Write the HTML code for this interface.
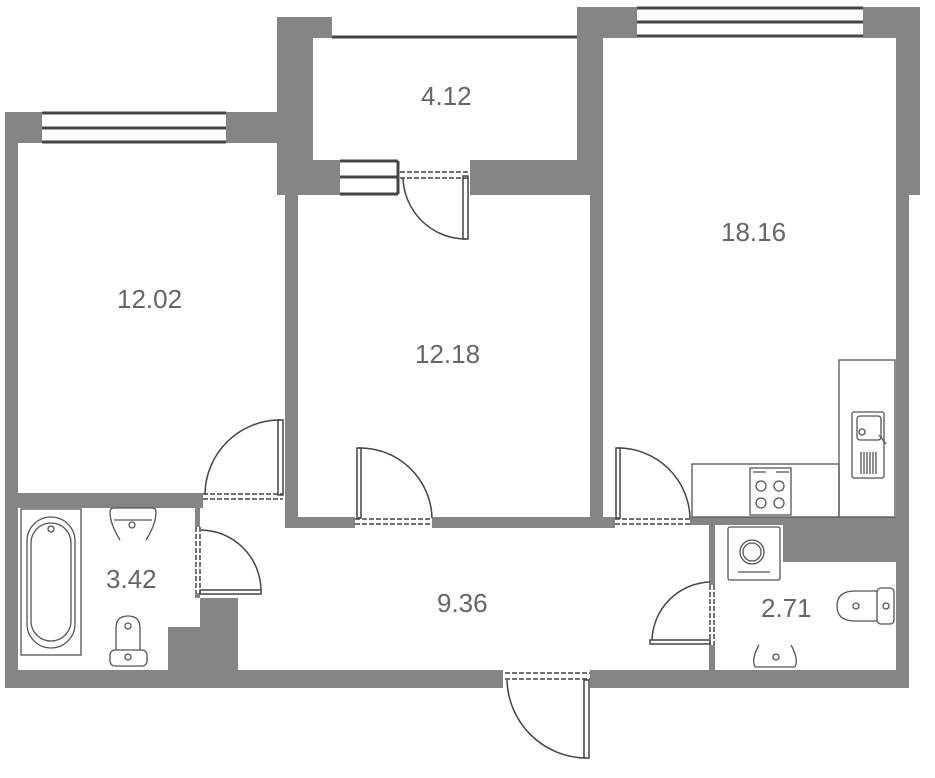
<!DOCTYPE html>
<html><head><meta charset="utf-8"><style>
html,body{margin:0;padding:0;background:#fff;}
svg{display:block;}
text{font-family:"Liberation Sans",sans-serif;font-size:26px;fill:#666;font-weight:300;}
</style></head><body>
<svg width="935" height="778" viewBox="0 0 935 778" xmlns="http://www.w3.org/2000/svg">
<g fill="#858585">
<rect x="5" y="112" width="13" height="576"/>
<rect x="5" y="112" width="37" height="31"/>
<rect x="226" y="112" width="72" height="31"/>
<rect x="277" y="17" width="55" height="21"/>
<rect x="277" y="17" width="36" height="178"/>
<rect x="285" y="143" width="13" height="385"/>
<rect x="298" y="160" width="42" height="35"/>
<rect x="470" y="160" width="133" height="35"/>
<rect x="577" y="7" width="60" height="31"/>
<rect x="577" y="7" width="26" height="188"/>
<rect x="590" y="160" width="13" height="368"/>
<rect x="863" y="7" width="57" height="31"/>
<rect x="896" y="7" width="24" height="188"/>
<rect x="896" y="195" width="13" height="493"/>
<rect x="5" y="493" width="198" height="15"/>
<rect x="195" y="508" width="5" height="19"/>
<rect x="195" y="593" width="5" height="5"/>
<rect x="200" y="598" width="38" height="90"/>
<rect x="168" y="627" width="32" height="61"/>
<rect x="285" y="517" width="70" height="11"/>
<rect x="432" y="517" width="183" height="11"/>
<rect x="690" y="517" width="219" height="8"/>
<rect x="783" y="517" width="126" height="45"/>
<rect x="709" y="525" width="6" height="60"/>
<rect x="709" y="645" width="6" height="43"/>
<rect x="5" y="670" width="498" height="18"/>
<rect x="590" y="670" width="319" height="18"/>
</g>
<g stroke="#444" stroke-width="3" fill="#fff">
<line x1="42" y1="113" x2="226" y2="113"/><line x1="42" y1="128" x2="226" y2="128"/><line x1="42" y1="142" x2="226" y2="142"/>
<line x1="637" y1="8" x2="863" y2="8"/><line x1="637" y1="22" x2="863" y2="22"/><line x1="637" y1="36" x2="863" y2="36"/>
<line x1="332" y1="37" x2="577" y2="37"/>
<line x1="340" y1="161" x2="398" y2="161"/><line x1="340" y1="177" x2="398" y2="177"/><line x1="340" y1="194" x2="398" y2="194"/>
<line x1="398" y1="161" x2="398" y2="194"/>
</g>
<g stroke="#444" stroke-width="1.5" fill="none">
<line x1="400" y1="172" x2="470" y2="172" stroke-dasharray="5,2"/><line x1="400" y1="178" x2="470" y2="178" stroke-dasharray="5,2"/>
<rect x="463" y="176" width="5" height="63"/>
<path d="M403 178 A63 63 0 0 0 466 239"/>
<line x1="203" y1="494" x2="283" y2="494" stroke-dasharray="5,2"/><line x1="203" y1="499" x2="283" y2="499" stroke-dasharray="5,2"/>
<rect x="278" y="420" width="5" height="75"/>
<path d="M205 494 A75 75 0 0 1 280 420"/>
<line x1="355" y1="519" x2="432" y2="519" stroke-dasharray="5,2"/><line x1="355" y1="524" x2="432" y2="524" stroke-dasharray="5,2"/>
<rect x="357" y="448" width="4" height="70"/>
<path d="M359 448 A72 72 0 0 1 432 518"/>
<line x1="615" y1="519" x2="690" y2="519" stroke-dasharray="5,2"/><line x1="615" y1="524" x2="690" y2="524" stroke-dasharray="5,2"/>
<rect x="616" y="448" width="4" height="70"/>
<path d="M618 448 A72 72 0 0 1 690 518"/>
<line x1="196" y1="527" x2="196" y2="593" stroke-dasharray="5,2"/><line x1="200" y1="527" x2="200" y2="593" stroke-dasharray="5,2"/>
<rect x="200" y="590" width="61" height="4"/>
<path d="M201 530 A61 61 0 0 1 261 590"/>
<line x1="710" y1="585" x2="710" y2="645" stroke-dasharray="5,2"/><line x1="714" y1="585" x2="714" y2="645" stroke-dasharray="5,2"/>
<rect x="650" y="640" width="60" height="4"/>
<path d="M652 640 A60 60 0 0 1 710 582"/>
<line x1="505" y1="673" x2="590" y2="673" stroke-dasharray="5,2"/><line x1="505" y1="679" x2="590" y2="679" stroke-dasharray="5,2"/>
<rect x="584" y="680" width="5" height="78"/>
<path d="M507 680 A80 80 0 0 0 586 758"/>
</g>
<g stroke="#555" stroke-width="1.3" fill="none">
<rect x="692" y="464" width="147" height="53"/>
<rect x="839" y="360" width="56" height="157"/>
<rect x="750" y="468" width="41" height="47"/>
<line x1="753" y1="472" x2="766" y2="472"/><line x1="776" y1="472" x2="789" y2="472"/>
<circle cx="761" cy="486" r="5"/><circle cx="779" cy="486" r="5"/><circle cx="761" cy="503" r="5"/><circle cx="779" cy="503" r="5"/>
<rect x="852" y="412" width="32" height="66" rx="2"/>
<rect x="857" y="416" width="24" height="24" rx="3"/>
<circle cx="862" cy="432" r="3"/><line x1="879" y1="435" x2="886" y2="444"/>
<path d="M861 452v22M864 452v22M867 452v22M870 452v22M873 452v22M876 452v22"/>
<rect x="21" y="509" width="60" height="146"/>
<rect x="27" y="517" width="48" height="131" rx="24"/>
<rect x="31" y="523" width="40" height="118" rx="20"/>
<circle cx="51" cy="529" r="3"/>
<path d="M110 512 q0 -4 4 -4h38q4 0 4 4q0 12 -10 28 M110 512 q0 12 10 28"/>
<path d="M114 520h38"/>
<circle cx="132" cy="525" r="3"/>
<rect x="110" y="650" width="37" height="16" rx="5"/>
<path d="M116 650 v-22 q0 -12 12 -12 q12 0 12 12 v22"/>
<circle cx="128" cy="626" r="3"/><circle cx="128" cy="657" r="3"/>
<rect x="728" y="527" width="52" height="53" rx="2"/>
<circle cx="752" cy="552" r="12"/><circle cx="752" cy="552" r="9"/>
<line x1="738" y1="572" x2="770" y2="572"/>
<rect x="877" y="588" width="17" height="36" rx="4"/>
<path d="M877 591 h-22 q-18 0 -18 15 q0 15 18 15 h22"/>
<circle cx="856" cy="606" r="3"/><circle cx="886" cy="606" r="3"/>
<path d="M755 667 q-4 -8 4 -22 M795 667 q4 -8 -4 -22 M755 667h40"/>
<circle cx="776" cy="657" r="3"/>
</g>
<text x="421" y="105">4.12</text>
<text x="721" y="241">18.16</text>
<text x="117" y="308">12.02</text>
<text x="415" y="363">12.18</text>
<text x="106" y="588">3.42</text>
<text x="437" y="612">9.36</text>
<text x="761" y="617">2.71</text>
</svg>
</body></html>
